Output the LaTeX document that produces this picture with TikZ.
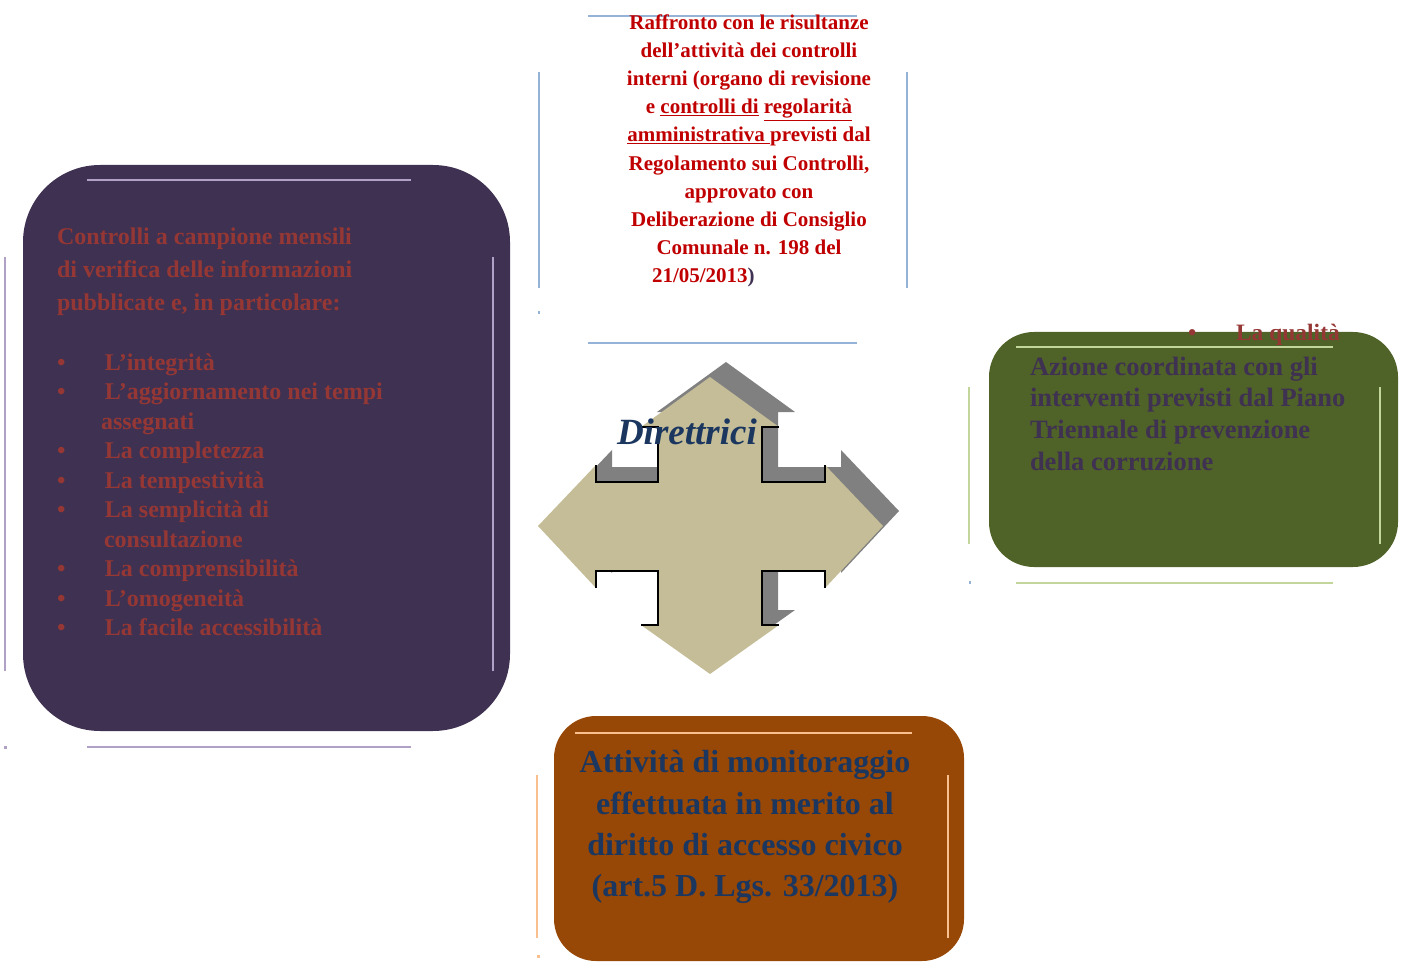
\documentclass[tikz,border=0pt]{standalone}
\usepackage{fontspec}
\setmainfont{Liberation Serif}
\definecolor{bluedeco}{RGB}{149,179,215}
\definecolor{lilac}{RGB}{178,161,199}
\definecolor{greendeco}{RGB}{194,214,155}
\definecolor{peach}{RGB}{250,191,143}
\definecolor{plum}{RGB}{63,49,81}
\definecolor{mossbox}{RGB}{79,98,40}
\definecolor{rust}{RGB}{151,71,6}
\definecolor{sand}{RGB}{196,189,151}
\definecolor{shadowgray}{RGB}{128,128,128}
\definecolor{dred}{RGB}{192,0,0}
\definecolor{brick}{RGB}{149,55,52}
\definecolor{navy}{RGB}{27,55,96}
\newcommand{\vocebox}{\makebox[48pt][l]{•}}

\begin{document}
\begin{tikzpicture}[x=1pt, y=-1pt,
    panel/.style={rectangle, rounded corners=#1, inner sep=0pt, outer sep=0pt},
    txt/.style={inner sep=0pt, outer sep=0pt},
    deco/.style={line width=2.6pt},
    notch/.style={line width=1.6pt, black},
    quadarrow/.style={insert path={(710,377) -- (779,427) -- (762,427) -- (762,482) -- (825,482) -- (825,465) -- (883,526) -- (825,588) -- (825,571) -- (762,571) -- (762,625) -- (779,625) -- (710,674) -- (641,625) -- (658,625) -- (658,571) -- (596,571) -- (596,588) -- (538,526) -- (596,465) -- (596,482) -- (658,482) -- (658,427) -- (641,427) -- cycle}},
]
\useasboundingbox (0,0) rectangle (1405,973);

% Riquadri
\node[panel=77pt, fill=plum, minimum width=487pt, minimum height=566pt] (controlli) at (266.5,448) {};
\node[panel=45pt, fill=mossbox, minimum width=409pt, minimum height=235pt] (piano) at (1193.5,449.5) {};
\node[panel=42pt, fill=rust, minimum width=410pt, minimum height=245pt] (monitor) at (759,838.5) {};

% Cornici
\draw[deco, bluedeco] (588,16) -- (857,16);
\draw[deco, bluedeco] (588,343) -- (857,343);
\draw[deco, bluedeco] (539,72) -- (539,288);
\draw[deco, bluedeco] (907,72) -- (907,288);
\fill[bluedeco] (537.5,311.5) rectangle (539.5,314.5);
\draw[deco, lilac] (87,180) -- (411,180);
\draw[deco, lilac] (87,747) -- (411,747);
\draw[deco, lilac] (5,257) -- (5,671);
\draw[deco, lilac] (493,257) -- (493,671);
\fill[lilac] (4,746) rectangle (7,748.5);
\draw[deco, greendeco] (1016,347) -- (1333,347);
\draw[deco, greendeco] (1016,583) -- (1333,583);
\draw[deco, greendeco] (969,387) -- (969,544);
\draw[deco, greendeco] (1380,387) -- (1380,544);
\fill[bluedeco] (969,581) rectangle (971,584);
\draw[deco, peach] (575,733) -- (912,733);
\draw[deco, peach] (537,775) -- (537,938);
\draw[deco, peach] (948,775) -- (948,938);
\fill[peach] (537,955) rectangle (539.5,958);

% Freccia a quattro punte
\begin{scope}[shift={(16,-15)}]
\fill[shadowgray, quadarrow];
\end{scope}
\fill[sand, quadarrow];
\draw[notch] (596,465) |- (658,482) |- (641,427);
\draw[notch] (779,427) -| (762,482) -| (825,465);
\draw[notch] (596,588) |- (658,571) |- (641,625);
\draw[notch] (779,625) -| (762,571) -| (825,588);
\node[txt, font=\fontsize{37}{40}\selectfont\bfseries\itshape, text=navy, anchor=base west] (direttrici) at (617,444.3) {Direttrici};

% Testi (ancorati alla base dell'ultima riga)
\node[txt, font={\fontsize{21}{28.16}\selectfont\bfseries}, text=dred, align=center, anchor=base] (raffronto) at (749,254.6) {Raffronto con le risultanze\\dell’attività dei controlli\\interni (organo di revisione\\e \underline{controlli di} \underline{regolarità}\\\underline{amministrativa\ }previsti dal\\Regolamento sui Controlli,\\approvato con\\Deliberazione di Consiglio\\Comunale n. 198 del};
\node[txt, font={\fontsize{21}{28.16}\selectfont\bfseries}, text=dred, anchor=base west] (data) at (652,282.7) {21/05/2013{\color{plum})}};

\node[txt, font={\fontsize{24}{33}\selectfont\bfseries}, text=brick, align=left, anchor=base west] (intro) at (57,311) {Controlli a campione mensili\\di verifica delle informazioni\\pubblicate e, in particolare:};
\node[txt, font={\fontsize{24}{29.5}\selectfont\bfseries}, text=brick, align=left, anchor=base west] (elenco) at (57,635.5) {\vocebox L’integrità\\\vocebox L’aggiornamento nei tempi\\\hspace*{44pt}assegnati\\\vocebox La completezza\\\vocebox La tempestività\\\vocebox La semplicità di\\\hspace*{47pt}consultazione\\\vocebox La comprensibilità\\\vocebox L’omogeneità\\\vocebox La facile accessibilità};

\node[txt, font={\fontsize{23.5}{28}\selectfont\bfseries}, text=brick, anchor=base west] (qualita) at (1188,340.7) {\vocebox La qualità};
\node[txt, font={\fontsize{26.5}{31.7}\selectfont\bfseries}, text=plum, align=left, anchor=base west] (azione) at (1030,470.1) {Azione coordinata con gli\\interventi previsti dal Piano\\Triennale di prevenzione\\della corruzione};

\node[txt, font={\fontsize{32}{41.3}\selectfont\bfseries}, text=navy, align=center, anchor=base] (accesso) at (745,896.6) {Attività di monitoraggio\\effettuata in merito al\\diritto di accesso civico\\(art.5 D. Lgs. 33/2013)};
\end{tikzpicture}
\end{document}
